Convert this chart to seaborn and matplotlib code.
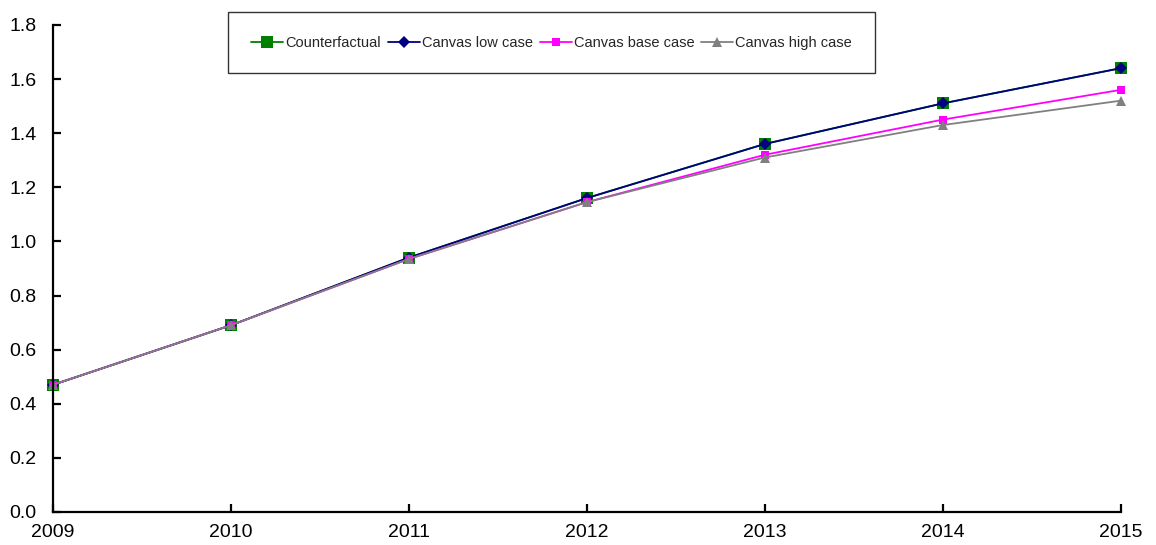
import matplotlib
matplotlib.use("Agg")
import matplotlib.pyplot as plt
import seaborn as sns
import pandas as pd

# data
years = [2009, 2010, 2011, 2012, 2013, 2014, 2015]
counterfactual = [0.47, 0.69, 0.94, 1.16, 1.36, 1.51, 1.64]
low_case = [0.47, 0.69, 0.94, 1.16, 1.36, 1.51, 1.64]
base_case = [0.47, 0.69, 0.935, 1.145, 1.32, 1.45, 1.56]
high_case = [0.47, 0.69, 0.935, 1.145, 1.31, 1.43, 1.52]

sns.set_style("ticks")
plt.rcParams['font.family'] = ['Liberation Sans', 'DejaVu Sans']

fig = plt.figure(figsize=(11.56, 5.45), dpi=100)
ax = fig.add_axes([0.0458, 0.0606, 0.9235, 0.8936])

series = [
    ("Counterfactual", counterfactual, "#008000", "s", 9),
    ("Canvas low case", low_case, "#000080", "D", 6),
    ("Canvas base case", base_case, "#FF00FF", "s", 6),
    ("Canvas high case", high_case, "#808080", "^", 7),
]
for name, vals, col, mk, ms in series:
    df = pd.DataFrame({"year": years, "value": vals})
    sns.lineplot(data=df, x="year", y="value", ax=ax, color=col, marker=mk,
                 markersize=ms, markeredgewidth=0, linewidth=1.3,
                 label=name, clip_on=False)

ax.set_xlim(2009, 2015)
ax.set_ylim(0, 1.8)
ax.set_xticks(years)
ax.set_yticks([i * 0.2 for i in range(10)])
ax.set_yticklabels([f"{i * 0.2:.1f}" for i in range(10)])
ax.set_xlabel("")
ax.set_ylabel("")
for s in ["top", "right"]:
    ax.spines[s].set_visible(False)
for s in ["left", "bottom"]:
    ax.spines[s].set_linewidth(1.6)
    ax.spines[s].set_color("black")
ax.tick_params(direction="in", length=6, width=1.6, labelsize=14, colors="black")
ax.tick_params(axis="y", pad=12)
ax.tick_params(axis="x", pad=9)

leg = ax.legend(loc="upper left", bbox_to_anchor=(0.164, 1.026), ncol=4,
                frameon=True, fancybox=False, edgecolor="black", fontsize=10.5,
                handlelength=2.2, handletextpad=0.15, columnspacing=0.45,
                borderpad=1.6, borderaxespad=0)
leg.get_frame().set_linewidth(1.0)

fig.savefig("out.png", dpi=100)
